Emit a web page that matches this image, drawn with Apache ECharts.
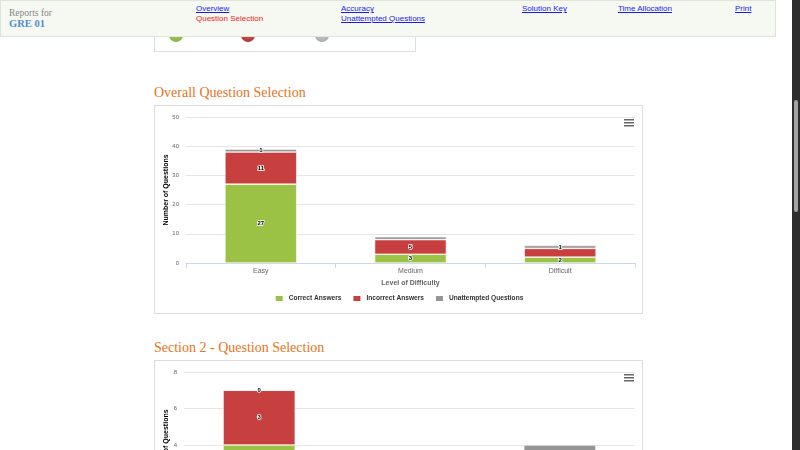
<!DOCTYPE html>
<html>
<head>
<meta charset="utf-8">
<script src="https://cdn.jsdelivr.net/npm/echarts@6/dist/echarts.min.js"></script>
<style>
  html, body { margin: 0; padding: 0; width: 800px; height: 450px; overflow: hidden; background: #fff; }
  .hdr { position: absolute; left: 0; top: 0; width: 774px; height: 35px; background: #f5f9f1;
         border: 1px solid #dfe5da; z-index: 5; font-family: "Liberation Sans", Arial, sans-serif; font-size: 8px; }
  .hdr a { position: absolute; color: #1a1aee; text-decoration: underline; }
  .hdr a.cur { color: #f01a1a; text-decoration: none; }
  .rep { position: absolute; left: 8px; top: 7px; font-family: "Liberation Serif", serif; font-size: 9.5px; color: #888; }
  .gre { position: absolute; left: 8px; top: 17px; font-family: "Liberation Serif", serif; font-size: 10.5px; font-weight: bold; color: #4f8ccf; }
  .prev { position: absolute; left: 154px; top: 0; width: 260px; height: 51px; border: 1px solid #ddd; border-top: none; }
  .dot { position: absolute; top: 28px; width: 14px; height: 14px; border-radius: 50%; }
  h2 { position: absolute; left: 154px; margin: 0; font-family: "Liberation Serif", serif; font-weight: normal;
       font-size: 14px; color: #e8731a; }
  .box { position: absolute; left: 154px; width: 487px; height: 207px; border: 1px solid #dcdcdc; }
  .sb { position: absolute; left: 792px; top: 0; width: 8px; height: 450px; background: #2d2d2d; }
  .thumb { position: absolute; left: 794px; top: 100px; width: 4px; height: 112px; background: #a3a3a3; border-radius: 2px; }
</style>
</head>
<body>
<div class="hdr">
  <div class="rep">Reports for</div>
  <div class="gre">GRE 01</div>
  <a style="left:195px;top:3px">Overview</a>
  <a class="cur" style="left:195px;top:13px">Question Selection</a>
  <a style="left:340px;top:3px">Accuracy</a>
  <a style="left:340px;top:13px">Unattempted Questions</a>
  <a style="left:521px;top:3px">Solution Key</a>
  <a style="left:617px;top:3px">Time Allocation</a>
  <a style="left:734px;top:3px">Print</a>
</div>
<div class="prev">
  <div class="dot" style="left:14px;background:radial-gradient(circle at 50% 30%,#b5d46a,#82a83a)"></div>
  <div class="dot" style="left:86px;background:radial-gradient(circle at 50% 30%,#d96060,#a82d2d)"></div>
  <div class="dot" style="left:160px;background:radial-gradient(circle at 50% 30%,#dcdcdc,#9a9a9a)"></div>
</div>

<h2 style="top:85px">Overall Question Selection</h2>
<div class="box" id="c1" style="top:105px"></div>

<h2 style="top:340px">Section 2 - Question Selection</h2>
<div class="box" id="c2" style="top:360px"></div>

<div class="sb"></div>
<div class="thumb"></div>

<script>
const categories = ["Easy", "Medium", "Difficult"];
const seriesNames = ["Correct Answers", "Incorrect Answers", "Unattempted Questions"];
const colors = ["#9bc244", "#c83f40", "#959595"];

// overall
const overallCorrect = [27, 3, 2];
const overallIncorrect = [11, 5, 3];
const overallUnattempted = [1, 1, 1];
// labels the original chart dropped, per series: category indexes
const overallHiddenLabels = [[], [2], [1]];

// section 2 (lower part is off screen, estimated)
const sec2Correct = [4, 1, 0];
const sec2Incorrect = [3, 2, 0];
const sec2Unattempted = [0, 0, 4];

const font = "Liberation Sans";

function hamburger() {
  const lines = [0, 3, 6].map(dy => ({
    type: "rect", shape: { x: 0, y: dy, width: 10, height: 1.5 }, style: { fill: "#666" }
  }));
  return [{ type: "group", right: 8, top: 13, children: lines }];
}

function buildOption(values, yMax, yInterval, hidden, gridLeft) {
  return {
    animation: false,
    textStyle: { fontFamily: font },
    grid: { left: gridLeft, right: 7, top: 11, bottom: 50, outerBoundsMode: "none", containLabel: false },
    graphic: hamburger(),
    legend: {
      top: 183, left: "center", itemWidth: 9, itemHeight: 7, itemGap: 10, icon: "rect",
      textStyle: { fontSize: 6.6, fontWeight: "bold", color: "#333", fontFamily: font }
    },
    xAxis: {
      type: "category", data: categories,
      name: "Level of Difficulty", nameLocation: "middle", nameGap: 15,
      nameTextStyle: { fontSize: 7, fontWeight: "bold", color: "#666" },
      axisLine: { lineStyle: { color: "#ccd6eb" } },
      axisTick: { show: true, length: 5, lineStyle: { color: "#ccd6eb" } },
      axisLabel: { fontSize: 7, color: "#666", margin: 5 }
    },
    yAxis: {
      type: "value", min: 0, max: yMax, interval: yInterval,
      name: "Number of Questions", nameLocation: "middle", nameGap: gridLeft - 15, nameRotate: 90,
      nameMoveOverlap: false,
      nameTextStyle: { fontSize: 7, fontWeight: "bold", color: "#000" },
      axisLine: { show: false }, axisTick: { show: false },
      axisLabel: { fontSize: 6, color: "#666", margin: 7 },
      splitLine: { lineStyle: { color: "#e6e6e6" } }
    },
    series: values.map((vals, s) => ({
      name: seriesNames[s], type: "bar", stack: "q", barWidth: "48%",
      itemStyle: { color: colors[s], borderColor: "#fff", borderWidth: 0.6 },
      label: {
        show: true, position: "inside", fontSize: 6, fontWeight: "bold", color: "#000",
        textBorderColor: "#fff", textBorderWidth: 1.5
      },
      data: vals.map((v, i) => (hidden && hidden[s].includes(i)) ? { value: v, label: { show: false } } : v)
    }))
  };
}

const c1 = echarts.init(document.getElementById("c1"));
c1.setOption(buildOption([overallCorrect, overallIncorrect, overallUnattempted], 50, 10, overallHiddenLabels, 31));

const c2 = echarts.init(document.getElementById("c2"));
c2.setOption(buildOption([sec2Correct, sec2Incorrect, sec2Unattempted], 8, 2, null, 29));
</script>
</body>
</html>
